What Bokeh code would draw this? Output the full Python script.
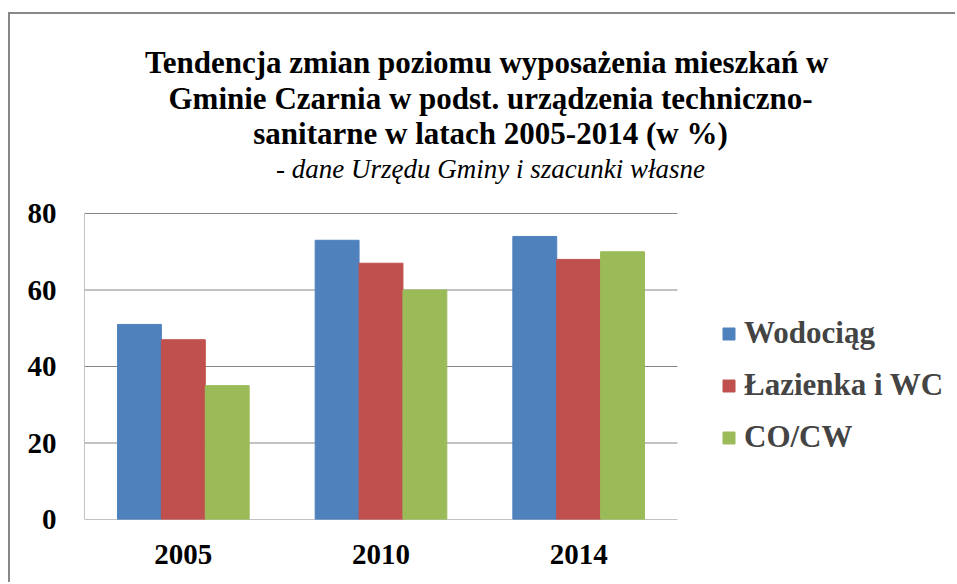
from bokeh.plotting import figure
from bokeh.models import ColumnDataSource, Range1d, Legend, LegendItem, FixedTicker
from bokeh.transform import dodge
from bokeh.core.properties import value
from bokeh.embed import file_html
from bokeh.resources import INLINE

years = ["2005", "2010", "2014"]
series_names = ["Wodociąg", "Łazienka i WC", "CO/CW"]
wodociag = [51, 73, 74]
lazienka = [47, 67, 68]
co_cw = [35, 60, 70]
colors = ["#4F81BD", "#C0504D", "#9BBB59"]
y_ticks = [0, 20, 40, 60, 80]
title_lines = [
    "Tendencja zmian poziomu wyposażenia mieszkań  w",
    "Gminie Czarnia w podst. urządzenia techniczno-",
    "sanitarne w latach 2005-2014 (w %)",
]
subtitle = "- dane Urzędu Gminy i szacunki własne"

FONT = "Liberation Serif"
AX = "#868686"

# layout (pixels)
W, H = 947, 570
ML, MB = 74, 65
FW, FH = W - ML, H - MB
PLOT_W, PLOT_H = 593, 306          # width of the category area, height of 0..80
n = len(years)
ymax = y_ticks[-1]
XEND = n * FW / PLOT_W
YEND = ymax * FH / PLOT_H

def px_x(px):
    return px * XEND / FW

def px_y(px):
    return px * YEND / FH

centers = [i + 0.5 for i in range(n)]
bw = 0.222
src = ColumnDataSource(dict(xc=centers, w=wodociag, l=lazienka, c=co_cw))

p = figure(x_range=Range1d(0, XEND), y_range=Range1d(0, YEND),
           width=W, height=H, output_backend="svg", toolbar_location=None,
           min_border_left=ML, min_border_right=0, min_border_top=0, min_border_bottom=MB)
p.margin = (12, 0, 0, 8)
p.styles = {"border-left": "2px solid #888888", "border-top": "2px solid #888888"}
p.outline_line_color = None
p.background_fill_color = "white"
p.border_fill_color = "white"

# gridlines and axis lines restricted to the category area
p.segment(x0=0, x1=n, y0=y_ticks[1:], y1=y_ticks[1:], line_color=AX, line_width=1)
p.segment(x0=[0, 0], x1=[0, n], y0=[0, 0], y1=[ymax, 0], line_color=AX, line_width=1)

r1 = p.vbar(x=dodge("xc", -bw), top="w", width=bw, source=src,
            fill_color=colors[0], line_color=colors[0])
r2 = p.vbar(x=dodge("xc", 0), top="l", width=bw, source=src,
            fill_color=colors[1], line_color=colors[1])
r3 = p.vbar(x=dodge("xc", bw), top="c", width=bw, source=src,
            fill_color=colors[2], line_color=colors[2])

p.xaxis.ticker = FixedTicker(ticks=centers)
p.xaxis.major_label_overrides = {c: y for c, y in zip(centers, years)}
p.yaxis.ticker = FixedTicker(ticks=y_ticks)
for ax in (p.xaxis[0], p.yaxis[0]):
    ax.axis_line_color = None
    ax.major_tick_out = 0
    ax.major_tick_in = 0
    ax.minor_tick_out = 0
    ax.minor_tick_in = 0
    ax.major_label_text_font = FONT
    ax.major_label_text_font_style = "bold"
    ax.major_label_text_font_size = "29px"
    ax.major_label_text_color = "black"
p.yaxis.major_label_standoff = 28
p.xaxis.major_label_standoff = 25
p.xgrid.grid_line_color = None
p.ygrid.grid_line_color = None

# titles (positions in px from frame bottom-left, alphabetic baseline)
TX = 406
p.text(x=[px_x(TX)] * 3, y=[px_y(v) for v in (457, 421, 386)], text=title_lines,
       text_align="center", text_baseline="alphabetic",
       text_font=value(FONT), text_font_style="bold",
       text_font_size="31px", text_color="black")
p.text(x=[px_x(TX)], y=[px_y(351)], text=[subtitle],
       text_align="center", text_baseline="alphabetic",
       text_font=value(FONT), text_font_style="italic",
       text_font_size="27px", text_color="black")

legend = Legend(items=[LegendItem(label=nm, renderers=[r]) for nm, r in zip(series_names, [r1, r2, r3])],
                location=(637, 64), padding=0, margin=0, spacing=16,
                glyph_width=15, glyph_height=15, label_standoff=8, label_height=30,
                label_text_font=FONT, label_text_font_style="bold", label_text_font_size="31px",
                border_line_color=None, background_fill_alpha=0)
p.add_layout(legend, "center")

open("out.html", "w").write(file_html(p, INLINE))
